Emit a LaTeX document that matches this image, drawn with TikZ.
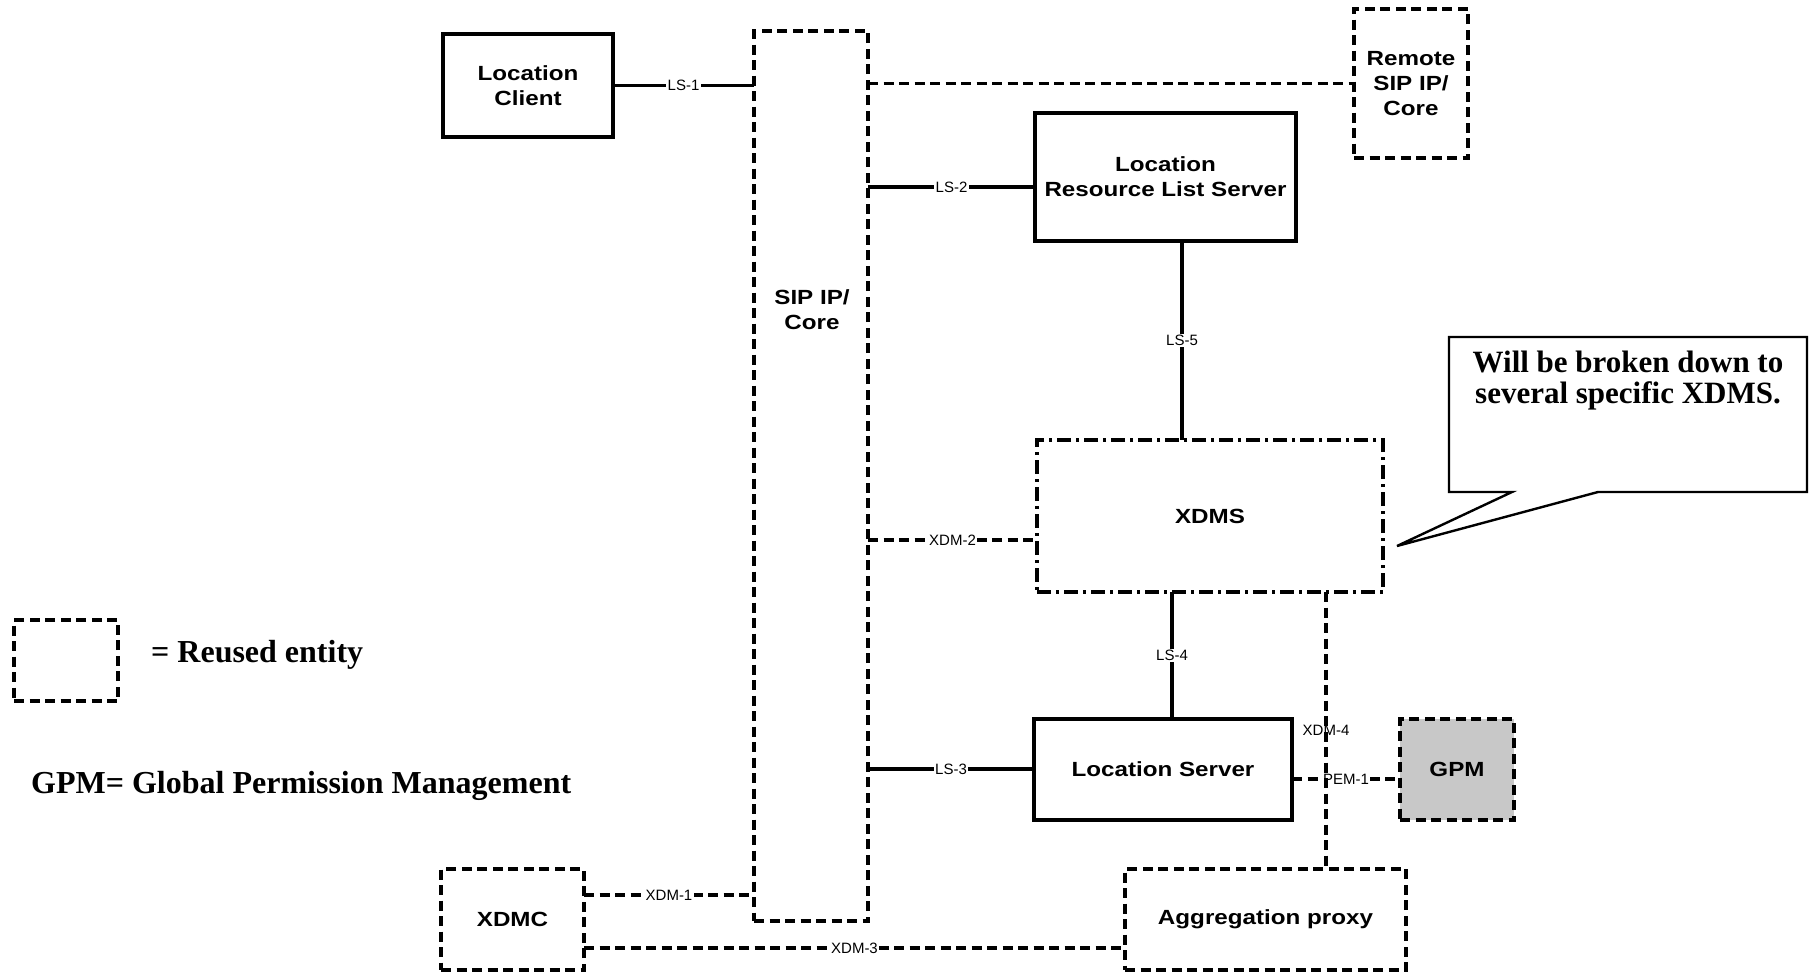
\documentclass[tikz,border=0pt]{standalone}
\usepackage{fontspec}
\setmainfont{Liberation Serif}
\newfontfamily\boxfont{Liberation Sans Bold}[FakeStretch=1.18]
\newfontfamily\linkfont{Liberation Sans}
\definecolor{gpmgray}{RGB}{200,200,200}

\tikzset{
  box/.style={draw, line width=4pt, inner sep=0pt, outer sep=0pt, align=center,
    font=\boxfont\fontsize{20.5}{25}\selectfont},
  reused/.style={box, line width=3.3pt, dash pattern=on 10pt off 5.5pt},
  xdmsbox/.style={box, line width=3.2pt, dash pattern=on 14pt off 5pt on 3pt off 5pt},
  link/.style={line width=3.6pt},
  dlink/.style={line width=3.3pt, dash pattern=on 10pt off 5.5pt},
  lbl/.style={font=\linkfont\fontsize{15}{18}\selectfont, fill=white, inner sep=1.5pt},
  lblclear/.style={font=\linkfont\fontsize{15}{18}\selectfont, inner sep=1pt},
  notetext/.style={font=\bfseries\fontsize{31}{31}\selectfont, align=center},
  legendtext/.style={font=\bfseries\fontsize{32}{36}\selectfont, anchor=west, inner sep=0pt}
}

\begin{document}
\begin{tikzpicture}[x=1pt, y=-1pt]
  \useasboundingbox (0,0) rectangle (1810,972);

  % entities
  \node[box, minimum width=170, minimum height=103] (lc) at (528,85.5) {Location\\Client};
  \node[reused, minimum width=114, minimum height=890] (sip) at (811,476) {};
  \node[font=\boxfont\fontsize{20.5}{25}\selectfont, align=center] (siplabel) at (812,310) {SIP IP/\\Core};
  \node[reused, minimum width=114, minimum height=149] (remote) at (1411,83.5) {Remote\\SIP IP/\\Core};
  \node[box, minimum width=261, minimum height=128] (lrls) at (1165.5,177) {Location\\Resource List Server};
  \node[xdmsbox, minimum width=346, minimum height=152] (xdms) at (1210,516) {XDMS};
  \node[box, minimum width=258, minimum height=101] (ls) at (1163,769.5) {Location Server};
  \node[reused, fill=gpmgray, minimum width=114, minimum height=101] (gpm) at (1457,769.5) {GPM};
  \node[reused, minimum width=281, minimum height=101] (agg) at (1265.5,919.5) {Aggregation proxy};
  \node[reused, minimum width=143, minimum height=101] (xdmc) at (512.5,919.5) {XDMC};

  % reference lines for the interface routes
  \coordinate (yls2) at (0,187);
  \coordinate (yxdm2) at (0,540);
  \coordinate (yls3) at (0,769);
  \coordinate (ypem) at (0,779);
  \coordinate (yxdm1) at (0,895);
  \coordinate (yxdm3) at (0,948);
  \coordinate (xls5) at (1182,0);
  \coordinate (xls4) at (1172,0);
  \coordinate (xxdm4) at (1326,0);

  % interfaces
  \draw[link] (lc.east) -- node[lbl] {LS-1} (lc.east -| sip.west);
  \draw[dlink] (sip.east |- remote.west) -- (remote.west);
  \draw[link] (sip.east |- yls2) -- node[lbl] {LS-2} (lrls.west |- yls2);
  \draw[link] (lrls.south -| xls5) -- node[lbl] {LS-5} (xdms.north -| xls5);
  \draw[dlink] (sip.east |- yxdm2) -- node[lbl] {XDM-2} (xdms.west |- yxdm2);
  \draw[link] (xdms.south -| xls4) -- node[lbl] {LS-4} (ls.north -| xls4);
  \draw[link] (sip.east |- yls3) -- node[lbl] {LS-3} (ls.west |- yls3);
  \draw[dlink] (ls.east |- ypem) -- node[lbl] {PEM-1} (gpm.west |- ypem);
  \draw[dlink] (xdms.south -| xxdm4) -- node[lblclear] {XDM-4} (agg.north -| xxdm4);
  \draw[dlink] (xdmc.east |- yxdm1) -- node[lbl] {XDM-1} (sip.west |- yxdm1);
  \draw[dlink] (xdmc.east |- yxdm3) -- node[lbl] {XDM-3} (agg.west |- yxdm3);

  % callout on the XDMS
  \draw[line width=2.4pt, line join=miter]
    (1449,337) -- (1807,337) -- (1807,492) -- (1598,492) -- (1397,546)
    -- (1512,492) -- (1449,492) -- cycle;
  \node[notetext] (note) at (1628,381) {Will be broken down to\\several specific XDMS.};

  % legend
  \node[reused, minimum width=104, minimum height=81] (legbox) at (66,660.5) {};
  \node[legendtext] (legtext) at (151,655) {= Reused entity};
  \node[legendtext] (gpmtext) at (31,786) {GPM= Global Permission Management};
\end{tikzpicture}
\end{document}
